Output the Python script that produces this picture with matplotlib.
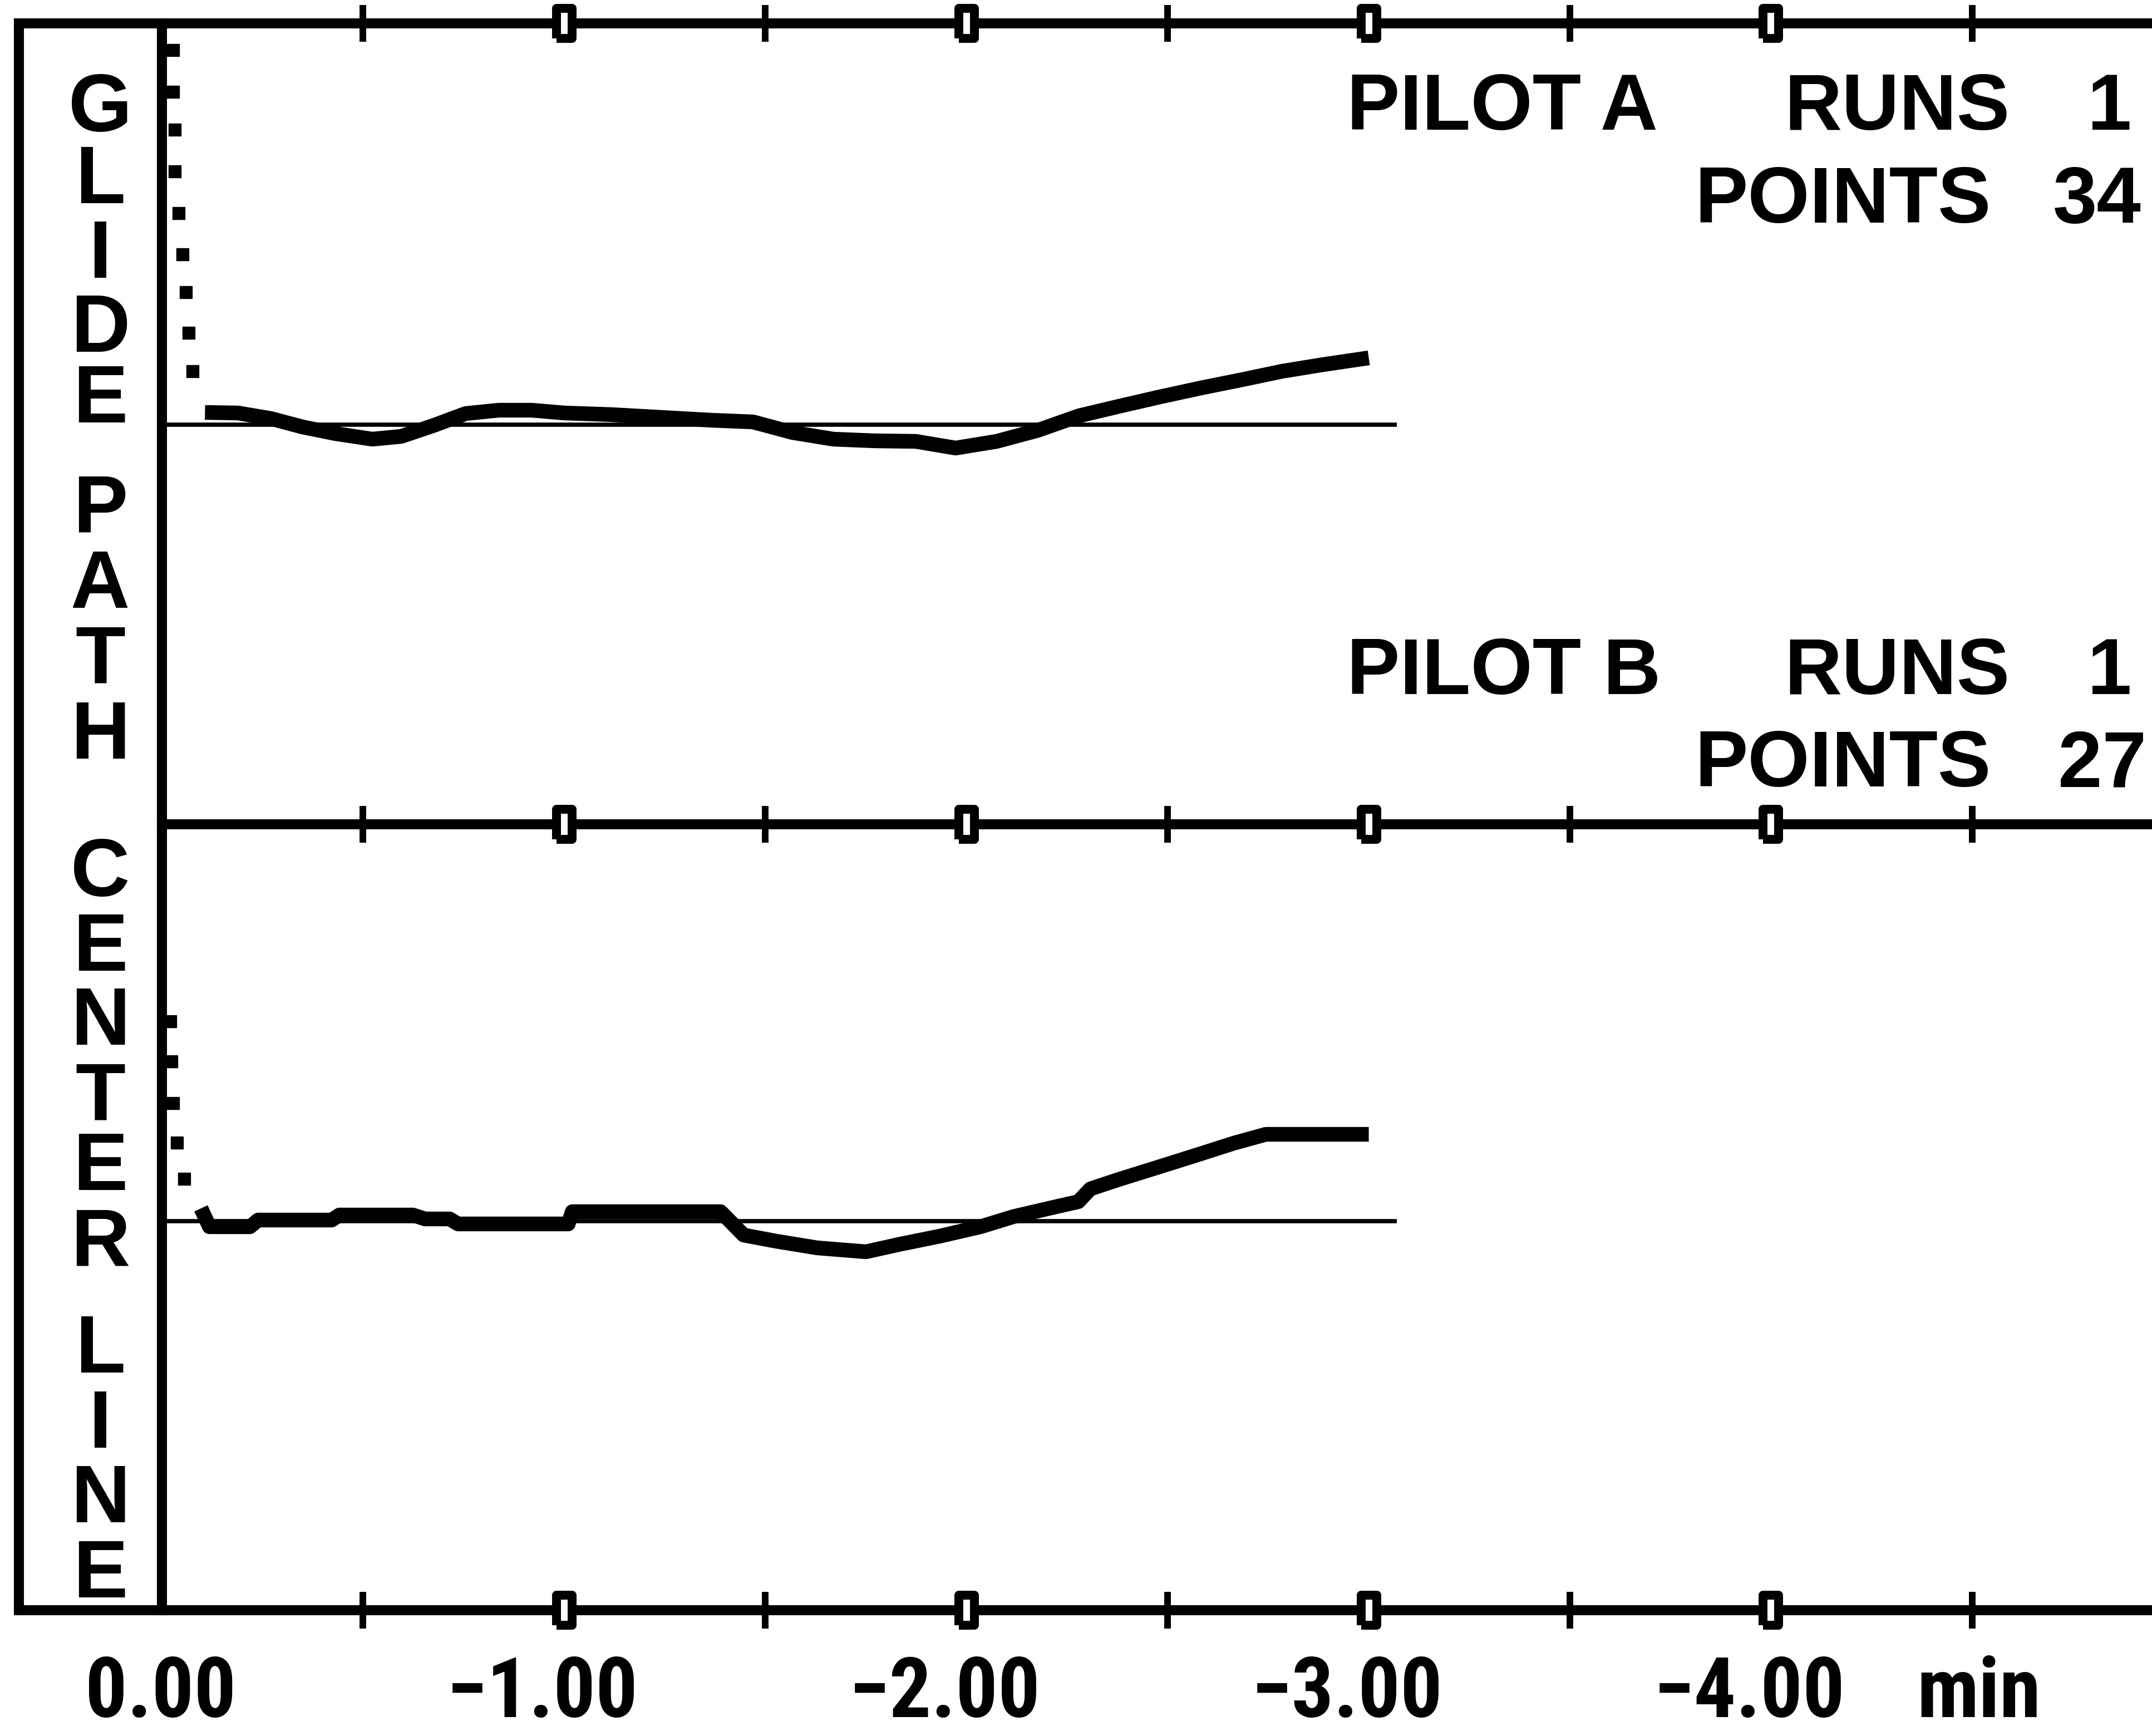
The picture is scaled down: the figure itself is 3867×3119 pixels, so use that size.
#!/usr/bin/env python3
# -*- coding: utf-8 -*-
"""
Glide path / center line deviation, pilot A and pilot B (old plotter style).
"""

import numpy as np
import matplotlib
matplotlib.use('Agg')
import matplotlib.pyplot as plt
from matplotlib.transforms import ScaledTranslation

### set rcParams
plt.rcParams['font.family'] = ['Liberation Sans', 'DejaVu Sans']
plt.rcParams['font.weight'] = 'bold'

### data (time in min before touchdown, deviation in display units)
# pilot A : dotted descent onto the path, then tracked line
dots_a_t = [-0.028, -0.028, -0.032, -0.032, -0.041, -0.051, -0.059, -0.066, -0.076]
dots_a_y = [6.73, 5.98, 5.30, 4.55, 3.80, 3.06, 2.38, 1.65, 0.96]
time_a = [-0.107, -0.189, -0.271, -0.349, -0.431, -0.523, -0.595, -0.677, -0.755,
          -0.837, -0.919, -1.001, -1.120, -1.243, -1.366, -1.469, -1.567, -1.669,
          -1.771, -1.874, -1.973, -2.075, -2.178, -2.280, -2.379, -2.481, -2.583,
          -2.686, -2.785, -2.887, -3.000]
dev_a = [0.22, 0.21, 0.11, -0.04, -0.16, -0.26, -0.21, -0.01, 0.20,
         0.26, 0.26, 0.21, 0.18, 0.13, 0.08, 0.05, -0.14, -0.26,
         -0.29, -0.30, -0.42, -0.30, -0.10, 0.16, 0.33, 0.50, 0.66,
         0.81, 0.96, 1.08, 1.20]

# pilot B
dots_b_t = [-0.021, -0.024, -0.028, -0.037, -0.055]
dots_b_y = [3.59, 2.87, 2.12, 1.41, 0.76]
time_b = [-0.097, -0.118, -0.219, -0.239, -0.422, -0.441, -0.624, -0.654, -0.715,
          -0.736, -1.010, -1.020, -1.389, -1.446, -1.527, -1.629, -1.750, -1.831,
          -1.933, -2.035, -2.116, -2.217, -2.278, -2.308, -2.379, -2.481, -2.582,
          -2.664, -2.744, -3.000]
dev_b = [0.23, -0.10, -0.10, 0.02, 0.02, 0.11, 0.11, 0.04, 0.04,
         -0.05, -0.05, 0.17, 0.17, -0.25, -0.36, -0.48, -0.55, -0.42,
         -0.27, -0.10, 0.08, 0.25, 0.35, 0.58, 0.75, 0.98, 1.21,
         1.40, 1.56, 1.56]

ref_end = -3.07          # end of the zero reference line
major_ticks = [0, -1, -2, -3, -4]
minor_ticks = [-0.5, -1.5, -2.5, -3.5, -4.5]
tick_labels = ['0.00', '\u22121.00', '\u22122.00', '\u22123.00', '\u22124.00']
unit_label = 'min'

column_text = 'GLIDE PATH CENTER LINE'
pilot_a = ['PILOT A', 'RUNS', '1', 'POINTS', '34']
pilot_b = ['PILOT B', 'RUNS', '1', 'POINTS', '27']

### geometry (pixels of the 3867x3119 canvas)
W, H, DPI = 3867, 3119, 100
X_BOX, X_AXIS = 34, 291
Y_TOP, Y_MID, Y_BOT = 42, 1481, 2893
XMAX = -4.947
LW_FRAME = 13.0
LW_CURVE = 19.0
LW_REF = 5.5
LABEL_FONT = ['Roboto Condensed', 'Liberation Sans Narrow', 'Liberation Sans']

# centres of the stacked letters (y, px)
letter_y = [183, 312, 446, 579, 706, None,
            903, 1039, 1175, 1310, None,
            1557, 1691, 1824, 1960, 2085, 2220, None,
            2413, 2548, 2682, 2817]


def fx(x):
    return x / W


def fy(y):
    return 1 - y / H


def style_panel(ax, ylim, top_ticks=True):
    ax.set_xlim(0, XMAX)
    ax.set_ylim(*ylim)
    ax.patch.set_visible(False)
    for side in ['top', 'bottom', 'left']:
        ax.spines[side].set_linewidth(LW_FRAME)
    ax.spines['right'].set_visible(False)
    if not top_ticks:
        ax.spines['top'].set_visible(False)
    ax.set_yticks([])
    ax.set_xticks(major_ticks)
    ax.set_xticklabels([])
    ax.set_xticks(minor_ticks, minor=True)
    ax.tick_params(axis='x', which='major', length=0)
    ax.tick_params(axis='x', which='minor', direction='inout', length=48,
                   width=8.6, top=top_ticks, bottom=True)
    # boxed major ticks (none at the origin corner)
    box = [(-0.25, -0.5), (0.25, -0.5), (0.25, 0.5), (-0.25, 0.5), (-0.25, -0.5)]
    ys = [0, 1] if top_ticks else [0]
    for yv in ys:
        ax.plot(major_ticks[1:], [yv] * (len(major_ticks) - 1), ls='none',
                marker=box, markersize=39, markerfacecolor='white',
                markeredgecolor='black', markeredgewidth=11.5,
                transform=ax.get_xaxis_transform(), clip_on=False, zorder=6)


def plot_run(ax, dots_t, dots_y, t, d):
    ax.plot([0, ref_end], [0, 0], color='black', lw=LW_REF, solid_capstyle='butt')
    ax.plot(dots_t, dots_y, ls='none', marker='s', markersize=16, color='black')
    ax.plot(t, d, color='black', lw=LW_CURVE, solid_capstyle='butt',
            solid_joinstyle='round')


def add_info(info, y_line1, y_line2, right2):
    kw = dict(fontsize=103, fontweight='bold', va='baseline', color='black')
    fig.text(fx(2420), fy(y_line1), info[0], ha='left', **kw)
    fig.text(fx(3206), fy(y_line1), info[1], ha='left', **kw)
    fig.text(fx(3830), fy(y_line1), info[2], ha='right', **kw)
    fig.text(fx(3045), fy(y_line2), info[3], ha='left', **kw)
    fig.text(fx(right2), fy(y_line2), info[4], ha='right', **kw)


fig = plt.figure(figsize=(W / DPI, H / DPI), dpi=DPI)
fig.patch.set_facecolor('white')

# label column
ax_lab = fig.add_axes([fx(X_BOX), fy(Y_BOT), fx(X_AXIS - X_BOX), (Y_BOT - Y_TOP) / H])
ax_lab.set_xticks([])
ax_lab.set_yticks([])
for sp in ax_lab.spines.values():
    sp.set_linewidth(LW_FRAME)

# panels
ax_a = fig.add_axes([fx(X_AXIS), fy(Y_MID), 1 - fx(X_AXIS), (Y_MID - Y_TOP) / H])
ax_b = fig.add_axes([fx(X_AXIS), fy(Y_BOT), 1 - fx(X_AXIS), (Y_BOT - Y_MID) / H])
style_panel(ax_a, (-7.18, 7.21), top_ticks=True)
style_panel(ax_b, (-6.99, 7.13), top_ticks=False)

plot_run(ax_a, dots_a_t, dots_a_y, time_a, dev_a)
plot_run(ax_b, dots_b_t, dots_b_y, time_b, dev_b)

# stacked vertical title
for ch, yc in zip(column_text, letter_y):
    if ch == ' ':
        continue
    fig.text(fx(180), fy(yc + 53), ch, ha='center', va='baseline',
             fontsize=106, fontweight='bold')

# tick labels below the bottom panel
trans = ax_b.get_xaxis_transform()
for tv, lab in zip(major_ticks, tick_labels):
    off = ScaledTranslation(1.33, -1.92, fig.dpi_scale_trans)
    ax_b.text(tv, 0, lab, transform=trans + off, ha='right', va='baseline',
              fontsize=108, fontweight='bold', family=LABEL_FONT, clip_on=False)
ax_b.text(-4.5, 0, unit_label, ha='center', va='baseline', fontsize=108,
          fontweight='bold', family=LABEL_FONT,
          transform=trans + ScaledTranslation(0.12, -1.92, fig.dpi_scale_trans),
          clip_on=False)

# run info
add_info(pilot_a, 233, 400, 3848)
add_info(pilot_b, 1247, 1413, 3857)

fig.savefig('out.png', dpi=DPI, facecolor='white')
plt.close()
